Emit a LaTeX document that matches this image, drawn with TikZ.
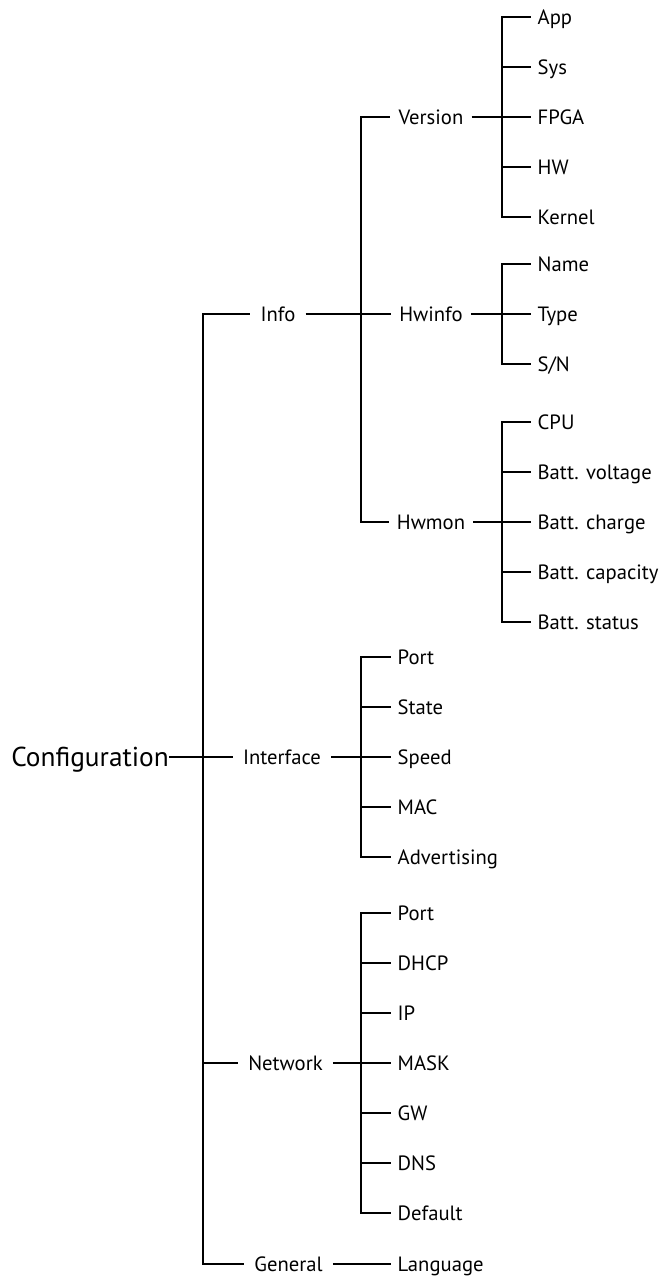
\documentclass[tikz,border=0pt]{standalone}
\usepackage{fontspec}
\setmainfont{PT Sans}
\usetikzlibrary{positioning}

\begin{document}
\begin{tikzpicture}[
  x=0.75pt, y=-0.75pt,
  lbl/.style={font=\fontsize{15.5}{18}\selectfont, text height=10.85pt, text depth=0pt, inner ysep=0pt},
  level0/.style={font=\fontsize{20.5}{24}\selectfont, text height=14.35pt, text depth=0pt, inner ysep=0pt, inner xsep=0pt, anchor=east},
  level1/.style={lbl, inner xsep=7.5pt},
  level2/.style={lbl, inner xsep=6pt},
  leaf/.style={lbl, inner xsep=4.8pt, anchor=west},
  conn/.style={line width=1.5pt}
]
\useasboundingbox (0,0) rectangle (660,1281);

% Level 0
\node[level0] (cfg) at (169,757) {Configuration};
\coordinate (j0) at (203,757);

% Level 1
\node[level1] (info) at (278,314) {Info};
\node[level1] (iface) at (282,757) {Interface};
\node[level1] (net) at (285.5,1063) {Network};
\node[level1] (gen) at (288.5,1264) {General};

\draw[conn] (cfg.east) -- (iface.west);
\foreach \n in {info,net,gen}
  \draw[conn] (j0) |- (\n.west);

% Level 2 (Info)
\node[level2] (ver) at (431,117) {Version};
\node[level2] (hwi) at (431,314) {Hwinfo};
\node[level2] (hwm) at (431,522) {Hwmon};
\coordinate (j1) at (361,314);

\draw[conn] (info.east) -- (j1);
\foreach \n in {ver,hwi,hwm}
  \draw[conn] (j1) |- (\n.west);

% Leaves of Version
\coordinate (jv) at (502,117);
\draw[conn] (ver.east) -- (jv);
\foreach \t/\y [count=\i] in {App/17, Sys/67, FPGA/117, HW/167, Kernel/217} {
  \node[leaf] (ver\i) at (531,\y) {\t};
  \draw[conn] (jv) |- (ver\i.west);
}

% Leaves of Hwinfo
\coordinate (jh) at (502,314);
\draw[conn] (hwi.east) -- (jh);
\foreach \t/\y [count=\i] in {Name/264, Type/314, {S/N}/364} {
  \node[leaf] (hwi\i) at (531,\y) {\t};
  \draw[conn] (jh) |- (hwi\i.west);
}

% Leaves of Hwmon
\coordinate (jm) at (502,522);
\draw[conn] (hwm.east) -- (jm);
\foreach \t/\y [count=\i] in {CPU/422, Batt. voltage/472, Batt. charge/522, Batt. capacity/572, Batt. status/622} {
  \node[leaf] (hwm\i) at (531,\y) {\t};
  \draw[conn] (jm) |- (hwm\i.west);
}

% Leaves of Interface
\coordinate (ji) at (361,757);
\draw[conn] (iface.east) -- (ji);
\foreach \t/\y [count=\i] in {Port/657, State/707, Speed/757, MAC/807, Advertising/857} {
  \node[leaf] (if\i) at (391,\y) {\t};
  \draw[conn] (ji) |- (if\i.west);
}

% Leaves of Network
\coordinate (jn) at (361,1063);
\draw[conn] (net.east) -- (jn);
\foreach \t/\y [count=\i] in {Port/913, DHCP/963, IP/1013, MASK/1063, GW/1113, DNS/1163, Default/1213} {
  \node[leaf] (net\i) at (391,\y) {\t};
  \draw[conn] (jn) |- (net\i.west);
}

% Leaf of General
\node[leaf] (lang) at (391,1264) {Language};
\draw[conn] (gen.east) -- (lang.west);
\end{tikzpicture}
\end{document}
